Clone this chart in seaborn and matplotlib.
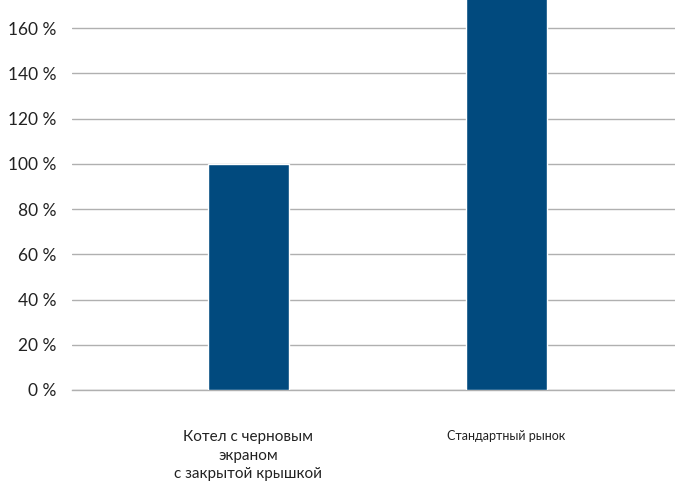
import matplotlib
matplotlib.use("Agg")
import matplotlib.pyplot as plt
import seaborn as sns
import pandas as pd

categories = ["Котел с черновым\nэкраном\nс закрытой крышкой", "Стандартный рынок"]
values = [100, 185]
yticks = [0, 20, 40, 60, 80, 100, 120, 140, 160]
ytick_labels = ["0 %", "20 %", "40 %", "60 %", "80 %", "100 %", "120 %", "140 %", "160 %"]

sns.set_theme(style="white")
plt.rcParams['font.family'] = ['Lato', 'DejaVu Sans']

fig = plt.figure(figsize=(6.75, 4.82), dpi=100)
ax = fig.add_axes([72/675, 92/482, 1 - 72/675, 390/482])

df = pd.DataFrame({"cat": categories, "val": values})
sns.barplot(data=df, x="cat", y="val", color="#014a7e", saturation=1,
            width=0.314, ax=ax, zorder=3)

ax.set_xlim(-0.684, 1.653)
ax.set_ylim(0, 172.4)
ax.set_yticks(yticks)
ax.set_yticklabels(ytick_labels, fontsize=12.5, color="#222222")
ax.yaxis.grid(True, color="#b0b0b0", linewidth=1.0, zorder=0)
ax.set_axisbelow(True)
for s in ["top", "right", "left"]:
    ax.spines[s].set_visible(False)
ax.spines["bottom"].set_color("#b0b0b0")
ax.spines["bottom"].set_linewidth(1.0)
ax.tick_params(axis="y", length=0, pad=11)
ax.tick_params(axis="x", length=0, pad=28.5)
ax.set_xlabel("")
ax.set_ylabel("")
labs = ax.get_xticklabels()
labs[0].set_fontsize(11)
labs[0].set_color("#222222")
labs[0].set_linespacing(1.45)
labs[1].set_fontsize(9)
labs[1].set_color("#222222")

fig.savefig("out.png", dpi=100)
